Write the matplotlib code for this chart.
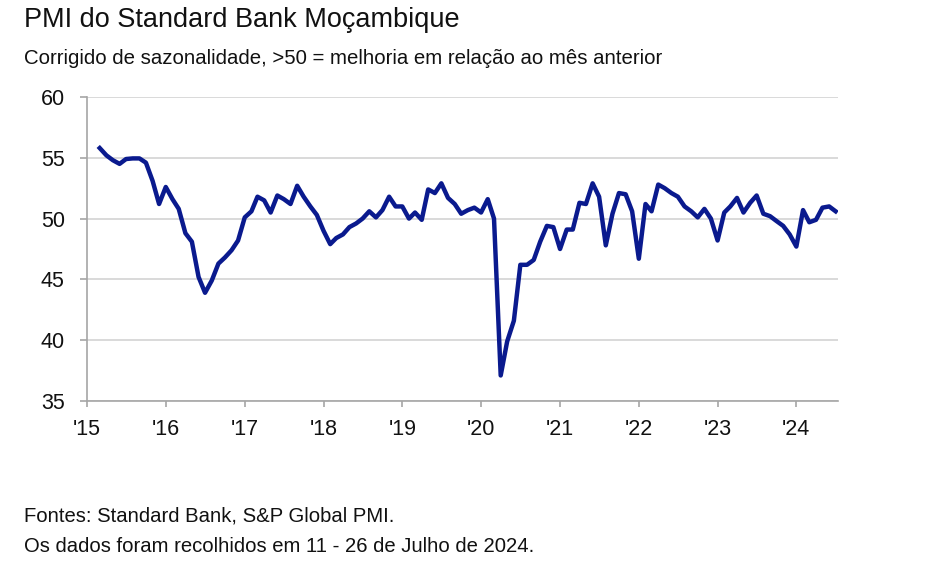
import matplotlib.pyplot as plt
import pandas as pd

plt.rcParams['font.family'] = ['Liberation Sans', 'DejaVu Sans']

# monthly PMI, Mar 2015 - Jul 2024
start_month = '2015-03-01'
pmi = [
    55.8, 55.2, 54.8, 54.5, 54.9, 54.95, 54.95, 54.6, 53.1, 51.2,
    52.6, 51.6, 50.8, 48.8, 48.1, 45.2, 43.9, 44.9, 46.3, 46.8, 47.4, 48.2,
    50.1, 50.6, 51.8, 51.5, 50.5, 51.9, 51.6, 51.2, 52.7, 51.8, 51.0, 50.3,
    49.0, 47.9, 48.4, 48.7, 49.3, 49.6, 50.0, 50.6, 50.1, 50.7, 51.8, 51.0,
    51.0, 50.0, 50.5, 49.9, 52.4, 52.1, 52.9, 51.7, 51.2, 50.4, 50.7, 50.9,
    50.5, 51.6, 50.0, 37.1, 39.9, 41.6, 46.2, 46.2, 46.6, 48.1, 49.4, 49.3,
    47.5, 49.1, 49.1, 51.3, 51.2, 52.9, 51.8, 47.8, 50.4, 52.1, 52.0, 50.6,
    46.7, 51.2, 50.6, 52.8, 52.5, 52.1, 51.8, 51.0, 50.6, 50.1, 50.8, 50.0,
    48.2, 50.5, 51.0, 51.7, 50.5, 51.3, 51.9, 50.4, 50.2, 49.8, 49.4, 48.7,
    47.7, 50.7, 49.7, 49.9, 50.9, 51.0, 50.6,
]
years = list(range(2015, 2025))
year_labels = ["'%02d" % (y % 100) for y in years]
y_ticks = [35, 40, 45, 50, 55, 60]

dates = pd.date_range(start_month, periods=len(pmi), freq='MS')

fig = plt.figure(figsize=(9.46, 5.72), dpi=100)
ax = fig.add_axes([87 / 946, 1 - 401 / 572, (838 - 87) / 946, 304 / 572])

ax.plot(dates, pmi, color='#0a1a8e', lw=3.2, solid_joinstyle='round', zorder=3)

ax.set_ylim(35, 60)
ax.set_xlim(pd.Timestamp('2015-01-01'), pd.Timestamp('2024-07-12'))
ax.set_yticks(y_ticks)
ax.set_xticks([pd.Timestamp('%d-01-01' % y) for y in years])
ax.set_xticklabels(year_labels)

ax.grid(axis='y', color='#d9d9d9', lw=1.4)
ax.set_axisbelow(True)
for s in ['top', 'right']:
    ax.spines[s].set_visible(False)
for s in ['left', 'bottom']:
    ax.spines[s].set_color('#a6a6a6')
    ax.spines[s].set_linewidth(1.2)
ax.tick_params(axis='both', colors='#a6a6a6', labelcolor='#111111',
               labelsize=15.5, width=1.2)
ax.tick_params(axis='x', length=4, pad=9)
ax.tick_params(axis='y', length=5, pad=11)

fig.text(24 / 946, 1 - 20 / 572, 'PMI do Standard Bank Moçambique',
         fontsize=19.5, va='center', ha='left', color='#111111')
fig.text(24 / 946, 1 - 58 / 572,
         'Corrigido de sazonalidade, >50 = melhoria em relação ao mês anterior',
         fontsize=14.7, va='center', ha='left', color='#111111')
fig.text(24 / 946, 1 - 516 / 572, 'Fontes: Standard Bank, S&P Global PMI.',
         fontsize=14.6, va='center', ha='left', color='#111111')
fig.text(24 / 946, 1 - 546 / 572,
         'Os dados foram recolhidos em 11 - 26 de Julho de 2024.',
         fontsize=14.6, va='center', ha='left', color='#111111')

fig.savefig('out.png', dpi=100)
